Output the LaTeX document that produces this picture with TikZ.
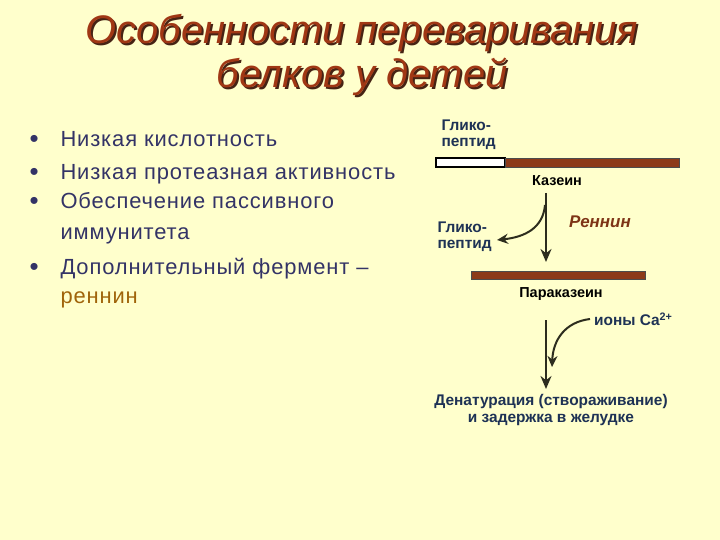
\documentclass[tikz,border=0pt]{standalone}
\usepackage{fontspec}
\setmainfont{Liberation Sans}
\newfontfamily\listfont[LetterSpace=4]{Liberation Sans}
\usetikzlibrary{arrows.meta}

\definecolor{slidebg}{RGB}{255,255,204}
\definecolor{titlered}{RGB}{160,55,20}
\definecolor{titleshadow}{RGB}{70,35,20}
\definecolor{bullettext}{RGB}{51,51,102}
\definecolor{renninbrown}{RGB}{160,100,10}
\definecolor{barbrown}{RGB}{140,58,25}
\definecolor{labelblue}{RGB}{30,50,85}
\definecolor{arrowdark}{RGB}{45,45,30}

\begin{document}
\begin{tikzpicture}[x=1bp, y=-1bp,
  title/.style={font=\fontsize{40}{44}\selectfont\itshape, align=center},
  bullet/.style={anchor=base west, text=bullettext, font=\listfont\fontsize{22}{24}\selectfont},
  label/.style={text=labelblue, font=\fontsize{15.5}{16.5}\selectfont\bfseries, align=left},
  blacklabel/.style={text=black, font=\fontsize{14.5}{16}\selectfont\bfseries},
  bar/.style={draw=black!70, fill=barbrown, line width=0.6bp},
  flow/.style={draw=arrowdark, line width=2.8bp, -{Stealth[length=13bp, width=11bp]}},
  side/.style={draw=arrowdark, line width=2bp, -{Stealth[length=11bp, width=10bp]}}]

  % background
  \fill[slidebg] (0,0) rectangle (720,540);
  \useasboundingbox (0,0) rectangle (720,540);

  % title
  \node[title, text=titleshadow] at (364,57) {Особенности переваривания\\белков у детей};
  \node[title, text=titlered] (title) at (362,55) {Особенности переваривания\\белков у детей};

  % list
  \foreach \y in {147,180,209,275}
    \node[bullet, font=\fontsize{26}{26}\selectfont] at (26,\y+1) {•};
  \node[bullet] (b1) at (57,147) {Низкая кислотность};
  \node[bullet] (b2) at (57,180) {Низкая протеазная активность};
  \node[bullet] (b3) at (57,209) {Обеспечение пассивного};
  \node[bullet] (b3b) at (57,240) {иммунитета};
  \node[bullet] (b4) at (57,275) {Дополнительный фермент –};
  \node[bullet, text=renninbrown] (b4b) at (57,303) {реннин};

  % casein
  \node[label, anchor=north west] (gp1) at (438,116) {Глико-\\пептид};
  \draw[draw=black, fill=white, line width=1.2bp] (436,158) rectangle (505,167);
  \draw[bar] (505,158) rectangle (679,167);
  \node[blacklabel] (casein) at (557,181) {Казеин};

  % rennin step
  \coordinate (a1) at (546,193);
  \coordinate (a1end) at (546,262);
  \draw[flow] (a1) -- (a1end);
  \node[label, anchor=north west] (gp2) at (434,218) {Глико-\\пептид};
  \draw[side] (545,205) .. controls (543,228) and (525,237) .. (497,240);
  \node[text=barbrown!90!black, font=\fontsize{17}{18}\selectfont\bfseries\itshape] (rennin) at (600,222) {Реннин};

  % paracasein
  \draw[bar] (471,271) rectangle (645,279);
  \node[blacklabel] (paracasein) at (561,294) {Параказеин};

  % calcium step
  \coordinate (a2) at (546,320);
  \coordinate (a2end) at (546,389);
  \draw[flow] (a2) -- (a2end);
  \node[label, anchor=west, inner sep=1bp] (ca) at (593,319) {ионы Ca\textsuperscript{2+}};
  \draw[side] ([xshift=-3bp]ca.west) .. controls (565,322) and (553,340) .. (552,367);

  % result
  \node[label, align=center] (result) at (551,410) {Денатурация (створаживание)\\и задержка в желудке};

\end{tikzpicture}
\end{document}
